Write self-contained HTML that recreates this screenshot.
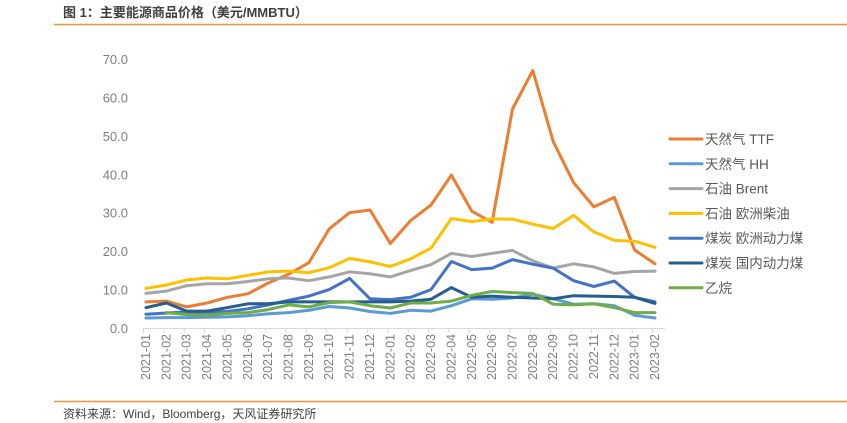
<!DOCTYPE html>
<html><head><meta charset="utf-8"><style>
body{margin:0;width:847px;height:423px;background:#fff;overflow:hidden;font-family:"Liberation Sans","Noto Sans CJK SC",sans-serif}
svg{display:block}
</style></head><body>
<svg id="chart" width="847" height="423" xmlns="http://www.w3.org/2000/svg" font-family="Liberation Sans, Noto Sans CJK SC, sans-serif">
<text x="63" y="17" font-size="13" font-weight="bold" fill="#404040">图 1：主要能源商品价格（美元/MMBTU）</text>
<line x1="54" y1="24.5" x2="847" y2="24.5" stroke="#f0923a" stroke-width="1.5"/>
<line x1="54" y1="401.5" x2="847" y2="401.5" stroke="#f0923a" stroke-width="1.5"/>
<text x="63" y="418" font-size="12" fill="#404040">资料来源：Wind，Bloomberg，天风证券研究所</text>
<g id="axes"></g>
<g id="series"></g>
<g id="legend"></g>
</svg>
<script>
const months=["2021-01","2021-02","2021-03","2021-04","2021-05","2021-06","2021-07","2021-08","2021-09","2021-10","2021-11","2021-12","2022-01","2022-02","2022-03","2022-04","2022-05","2022-06","2022-07","2022-08","2022-09","2022-10","2022-11","2022-12","2023-01","2023-02"];
const yTicks=[0,10,20,30,40,50,60,70];
const ttf=[6.8,7,5.5,6.5,8,8.9,11.7,14,17,25.8,30,30.7,22,28,32,39.8,30.4,27.5,57,67,48.5,37.8,31.5,34,20.3,16.7];
const hh=[2.6,2.7,2.7,2.8,2.9,3.2,3.7,4.0,4.6,5.6,5.2,4.3,3.8,4.6,4.4,5.8,7.6,7.5,7.8,8.8,7.6,6.2,6.3,5.8,3.3,2.6];
const brent=[9,9.6,11,11.5,11.5,12.1,12.8,13,12.3,13.3,14.6,14.1,13.3,15,16.5,19.4,18.6,19.4,20.2,17.5,15.6,16.7,15.9,14.2,14.7,14.8];
const diesel=[10.3,11.2,12.5,13,12.8,13.7,14.6,14.8,14.4,15.7,18.1,17.2,16,18,20.8,28.5,27.7,28.4,28.3,27,25.9,29.3,25,22.8,22.6,21];
const euCoal=[3.6,3.9,4.2,4.1,4.3,5,6,7.2,8.3,10,12.9,7.6,7.4,8,10,17.3,15.2,15.6,17.8,16.6,15.6,12.3,10.8,12.2,8,6.8];
const cnCoal=[5.3,6.5,4.4,4.4,5.3,6.3,6.3,6.8,6.8,6.8,6.8,6.8,6.8,7,7.5,10.5,8,8.3,8,7.8,7.6,8.4,8.3,8.2,8,6.4];
const ethane=[null,4,3.5,3.3,3.8,4,4.8,6,5.5,6.6,6.8,5.8,5.2,6.5,6.5,7,8.5,9.5,9.2,9,6.2,6,6.3,5.3,4,4];
const names=["天然气 TTF","天然气 HH","石油 Brent","石油 欧洲柴油","煤炭 欧洲动力煤","煤炭 国内动力煤","乙烷"];
const colors=["#ed7d31","#5b9bd5","#a5a5a5","#ffc000","#4472c4","#255e91","#70ad47"];
const allSeries=[ttf,hh,brent,diesel,euCoal,cnCoal,ethane];
const NS="http://www.w3.org/2000/svg";
const x0=146,x1=655,yBase=328,yTop=59,yMax=70;
const xs=i=>x0+(x1-x0)*i/(months.length-1);
const ys=v=>yBase-(yBase-yTop)*v/yMax;
function mk(tag,attrs,parent,txt){const e=document.createElementNS(NS,tag);for(const k in attrs)e.setAttribute(k,attrs[k]);if(txt!==undefined)e.textContent=txt;parent.appendChild(e);return e;}
const axes=document.getElementById('axes');
yTicks.forEach(t=>{
 const e=mk('text',{x:128,y:ys(t)+5,'text-anchor':'end','font-size':13,fill:'#7f7f7f'},axes,t.toFixed(1));
 
 
});
const ax=mk('line',{x1:143,y1:yBase+0.5,x2:665,y2:yBase+0.5,stroke:'#d9d9d9','stroke-width':1},axes);


months.forEach((m,i)=>{
 const x=xs(i);
 const tk=mk('line',{x1:x-2.5,y1:yBase,x2:x-2.5,y2:yBase+5,stroke:'#d9d9d9'},axes);
 
 
 const t=mk('text',{x:0,y:0,'text-anchor':'end','font-size':12.5,fill:'#7f7f7f',transform:`translate(${x+4},${yBase+6}) rotate(-90)`},axes,m);
 
 
});
const sg=document.getElementById('series');
allSeries.forEach((s,k)=>{
 let d='';let pen=false;
 s.forEach((v,i)=>{if(v===null){pen=false;return;}d+=(pen?'L':'M')+xs(i).toFixed(1)+','+ys(v).toFixed(1);pen=true;});
 const p=mk('path',{d:d,fill:'none',stroke:colors[k],'stroke-width':3,'stroke-linejoin':'round','stroke-linecap':'round'},sg);
 
 
});
const lg=document.getElementById('legend');
names.forEach((n,k)=>{
 const y=139+k*24.8;
 const g=mk('g',{},lg);
 
 
 mk('line',{x1:670,y1:y,x2:702,y2:y,stroke:colors[k],'stroke-width':3,'stroke-linecap':'round'},g);
 mk('text',{x:705,y:y+5,'font-size':13.5,fill:'#595959'},g,n);
});
</script>
</body></html>
